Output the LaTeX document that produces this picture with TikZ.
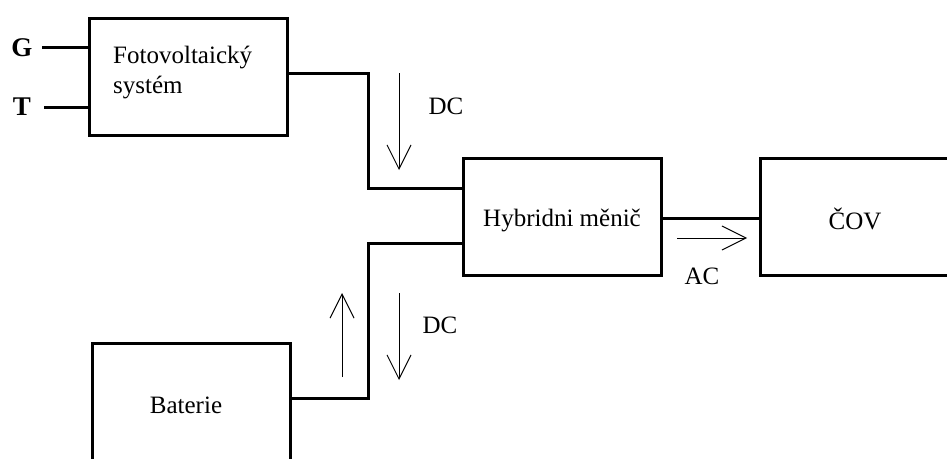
\documentclass[tikz,border=0pt]{standalone}
\usepackage{fontspec}
\setmainfont{Liberation Serif}
\usetikzlibrary{arrows.meta}
\begin{document}
\begin{tikzpicture}[x=1pt,y=-1pt,
  blk/.style={draw,line width=3pt,minimum width=198pt,minimum height=117pt,inner sep=0pt},
  wire/.style={line width=3pt},
  flow/.style={line width=1pt,-{Straight Barb[length=24pt,width=24pt,line width=1pt]}},
  lbl/.style={font=\fontsize{25}{30}\selectfont,inner sep=0pt},
  gt/.style={font=\fontsize{27}{30}\selectfont\bfseries,inner sep=0pt}]
\useasboundingbox (0,0) rectangle (947,458);
\clip (0,0) rectangle (947,458);
\fill[white] (0,0) rectangle (947,458);
% boxes
\node[blk] (pv) at (188,76.5) {};
\node[blk] (hyb) at (562,216.5) {};
\node[blk,minimum width=240pt] (cov) at (880,216.5) {};
\node[blk,minimum height=140pt] (bat) at (191,413) {};
% texts
\node[lbl,anchor=west,align=left] (pvt) at (113,73) {Fotovoltaický\\systém};
\node[lbl] (hybt) at (562,220) {Hybridni měnič};
\node[lbl] (covt) at (855,219) {ČOV};
\node[lbl] (batt) at (186,405) {Baterie};
\node[gt] (g) at (22,48) {G};
\node[gt] (t) at (22,107) {T};
\node[lbl] (dc1) at (446,106) {DC};
\node[lbl] (dc2) at (440,325) {DC};
\node[lbl] (ac) at (702,276) {AC};
% input wires
\coordinate (gs) at (42,47);
\coordinate (ts) at (44,107);
\draw[wire] (gs) -- (gs -| pv.west);
\draw[wire] (ts) -- (ts -| pv.west);
% connectors
\coordinate (j1) at (368,73);
\coordinate (j2) at (368,188);
\coordinate (j3) at (368,243);
\coordinate (j4) at (368,398);
\draw[wire] (j1 -| pv.east) -- (j1) -- (j2) -- (j2 -| hyb.west);
\draw[wire] (j3 -| hyb.west) -- (j3) -- (j4) -- (j4 -| bat.east);
\coordinate (k1) at (0,218);
\draw[wire] (k1 -| hyb.east) -- (k1 -| cov.west);
% flow arrows
\coordinate (a1s) at (399,73);
\coordinate (a1e) at (399,170);
\draw[flow] (a1s) -- (a1e);
\coordinate (a2s) at (342,377);
\coordinate (a2e) at (342,293);
\draw[flow] (a2s) -- (a2e);
\coordinate (a3s) at (399,293);
\coordinate (a3e) at (399,380);
\draw[flow] (a3s) -- (a3e);
\coordinate (a4s) at (677,238);
\coordinate (a4e) at (747,238);
\draw[flow] (a4s) -- (a4e);
\end{tikzpicture}
\end{document}
